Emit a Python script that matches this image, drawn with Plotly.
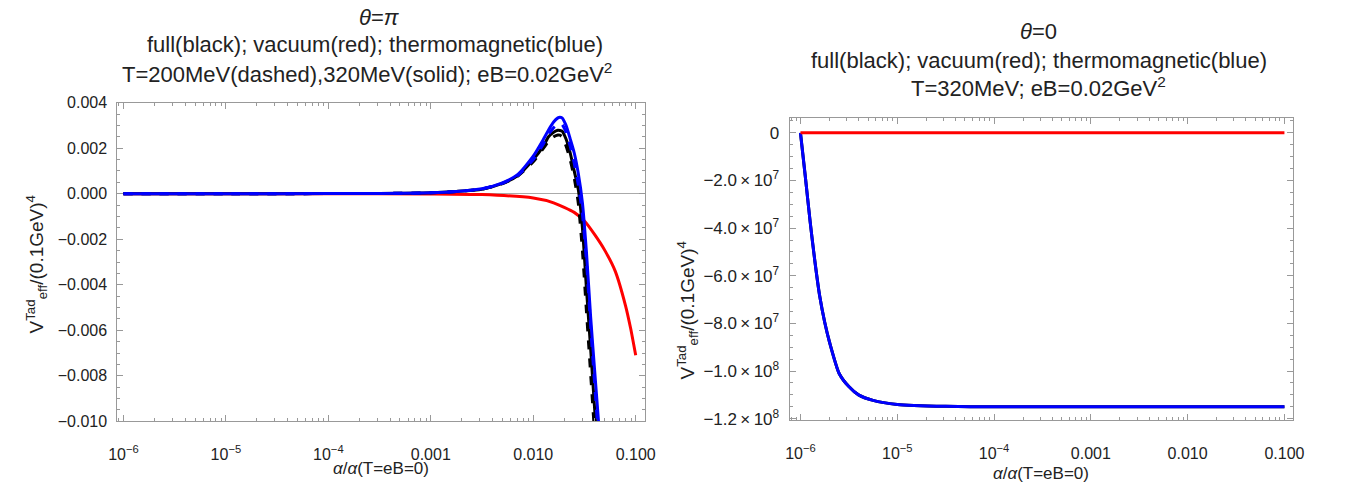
import plotly.graph_objects as go
from plotly.subplots import make_subplots

# ---- left panel: theta = pi ----
alpha_left = [1e-6, 1e-5, 1e-4, 3.16e-4, 1e-3, 1.78e-3, 3.16e-3, 5.01e-3, 7.08e-3,
              1.0e-2, 1.26e-2, 1.41e-2, 1.58e-2, 1.74e-2, 1.82e-2, 1.91e-2, 2.09e-2,
              2.29e-2, 2.51e-2, 2.75e-2, 3.02e-2, 3.31e-2, 3.63e-2, 3.98e-2, 4.37e-2]
thermo_320 = [0, 0, 0.000005, 0.00001, 0.00004, 0.0001, 0.00022, 0.00048, 0.00085,
              0.00165, 0.0024, 0.0028, 0.00315, 0.00333, 0.00336, 0.00333, 0.0030,
              0.00242, 0.0018, 0.0009, -0.0004, -0.0026, -0.0054, -0.0078, -0.0102]
thermo_200 = [0, 0, 0.000005, 0.00001, 0.00004, 0.0001, 0.00021, 0.00046, 0.0008,
              0.0015, 0.0022, 0.0026, 0.0029, 0.00305, 0.00308, 0.00305, 0.0027,
              0.0021, 0.00135, 0.0004, -0.0009, -0.003, -0.0058, -0.0084, -0.011]
full_320 = [0, 0, 0.000005, 0.00001, 0.00004, 0.0001, 0.0002, 0.00045, 0.0008,
            0.0015, 0.0021, 0.0025, 0.0027, 0.00279, 0.00278, 0.00275, 0.0024,
            0.0018, 0.001, 0.0002, -0.0015, -0.0042, -0.0068, -0.0095, -0.0122]
full_200 = [0, 0, 0.000005, 0.00001, 0.00004, 0.0001, 0.0002, 0.00044, 0.00078,
            0.0014, 0.002, 0.0023, 0.0025, 0.00258, 0.00257, 0.0025, 0.0021,
            0.0015, 0.0007, -0.0004, -0.0025, -0.0052, -0.0079, -0.0106, -0.0133]

alpha_vac = [1e-6, 1e-5, 1e-4, 1e-3, 3.16e-3, 1e-2, 1.58e-2, 2.51e-2, 3.16e-2, 3.98e-2,
             5.01e-2, 6.31e-2, 7.94e-2, 8.91e-2, 0.1]
vacuum = [0, 0, 0, -0.00001, -0.00004, -0.00019, -0.0004, -0.00082, -0.0012, -0.0018,
          -0.0025, -0.0034, -0.0049, -0.0059, -0.0071]

# ---- right panel: theta = 0, T = 320 MeV ----
alpha_right = [1e-6, 1.12e-6, 1.26e-6, 1.41e-6, 1.58e-6, 1.78e-6, 2.0e-6, 2.51e-6,
               3.16e-6, 3.98e-6, 5.62e-6, 1e-5, 3.16e-5, 1e-4, 1e-3, 1e-2, 0.1]
thermo_r = [0, -18e6, -37.5e6, -54e6, -68.5e6, -79.5e6, -88e6, -101e6,
            -106.5e6, -110e6, -112.3e6, -114e6, -114.8e6, -115e6, -115e6, -115e6, -115e6]
full_r = thermo_r
vacuum_r = [0] * len(alpha_right)

x_ticks = [1e-6, 1e-5, 1e-4, 1e-3, 1e-2, 0.1]
x_ticktext = ["10<sup>\u22126</sup>", "10<sup>\u22125</sup>", "10<sup>\u22124</sup>",
              "0.001", "0.010", "0.100"]
yl_ticks = [0.004, 0.002, 0.0, -0.002, -0.004, -0.006, -0.008, -0.010]
yl_text = ["0.004", "0.002", "0.000", "\u22120.002", "\u22120.004", "\u22120.006",
           "\u22120.008", "\u22120.010"]
yr_ticks = [0, -2e7, -4e7, -6e7, -8e7, -1e8, -1.2e8]
yr_text = ["0"] + ["\u2212%s\u2009\u00d7\u200910<sup>%d</sup>" % (m, p)
                   for m, p in [("2.0", 7), ("4.0", 7), ("6.0", 7), ("8.0", 7),
                                ("1.0", 8), ("1.2", 8)]]

minor_log = [m * 10.0 ** e for e in range(-7, 0) for m in range(2, 10)]

W, H = 1346, 497
FONT = "Liberation Sans, Arial, sans-serif"
BLUE, BLACK, RED = "#0000ff", "#000000", "#ff0000"

fig = make_subplots(rows=1, cols=2)

def add(x, y, color, dash, col):
    fig.add_trace(go.Scatter(x=x, y=y, mode="lines", line=dict(color=color, width=3, dash=dash,
                                                               shape="spline", smoothing=0.6),
                             showlegend=False, hoverinfo="skip"), row=1, col=col)

add(alpha_vac, vacuum, RED, "solid", 1)
add(alpha_left, full_200, BLACK, "dash", 1)
add(alpha_left, full_320, BLACK, "solid", 1)
add(alpha_left, thermo_200, BLUE, "dash", 1)
add(alpha_left, thermo_320, BLUE, "solid", 1)

add(alpha_right, full_r, BLACK, "solid", 2)
add(alpha_right, thermo_r, BLUE, "solid", 2)
add(alpha_right, vacuum_r, RED, "solid", 2)

axis_common = dict(showline=True, linecolor="#999999", linewidth=1, mirror="allticks",
                   ticks="inside", ticklen=6, tickcolor="#999999", showgrid=False,
                   tickfont=dict(family=FONT, size=16, color="#222"))

fig.update_xaxes(type="log", tickmode="array", tickvals=x_ticks, ticktext=x_ticktext,
                 minor=dict(tickmode="array", tickvals=minor_log, ticks="inside", ticklen=3,
                            tickcolor="#999999"),
                 zeroline=False, ticklabelstandoff=18, **axis_common)
fig.update_xaxes(domain=[110 / W, 646 / W], range=[-6.06, -0.91], row=1, col=1)
fig.update_xaxes(domain=[793 / W, 1304 / W], range=[-6.112, -0.915], row=1, col=2)

fig.update_yaxes(row=1, col=1, domain=[1 - 428 / H, 1 - 98 / H], range=[-0.0100, 0.0040],
                 tickmode="array", tickvals=yl_ticks, ticktext=yl_text,
                 minor=dict(dtick=0.0005, ticks="inside", ticklen=3, tickcolor="#999999"),
                 zeroline=True, zerolinecolor="#aaaaaa", zerolinewidth=1,
                 ticklabelstandoff=6, **axis_common)
fig.update_yaxes(row=1, col=2, domain=[1 - 427 / H, 1 - 114 / H], range=[-1.207e8, 0.062e8],
                 tickmode="array", tickvals=yr_ticks, ticktext=yr_text,
                 minor=dict(dtick=5e6, ticks="inside", ticklen=3, tickcolor="#999999"),
                 zeroline=False, ticklabelstandoff=6, **axis_common)
fig.update_yaxes(row=1, col=2, tickfont=dict(family=FONT, size=17, color="#222"))

ann = []
def text(x, y, s, size=22, angle=0):
    ann.append(dict(x=x / W, y=1 - y / H, xref="paper", yref="paper", text=s, showarrow=False,
                    textangle=angle, xanchor="center", yanchor="middle",
                    font=dict(family=FONT, size=size, color="#222")))

text(376, 10, "<i>\u03b8</i>=<i>\u03c0</i>")
text(372, 38, "full(black); vacuum(red); thermomagnetic(blue)")
text(364, 67, "T=200MeV(dashed),320MeV(solid); eB=0.02GeV<sup>2</sup>")
text(1046, 24, "<i>\u03b8</i>=0")
text(1046, 54, "full(black); vacuum(red); thermomagnetic(blue)")
text(1046, 82, "T=320MeV; eB=0.02GeV<sup>2</sup>")
ylab = "V<sup>Tad</sup><sub>eff</sub>/(0.1GeV)<sup>4</sup>"
text(28, 266, ylab, 19, -90)
text(689, 313, ylab, 19, -90)
text(378, 477, "<i>\u03b1</i>/<i>\u03b1</i>(T=eB=0)", 17)
text(1048, 482, "<i>\u03b1</i>/<i>\u03b1</i>(T=eB=0)", 17)

fig.update_layout(width=W, height=H, margin=dict(l=0, r=0, t=0, b=0),
                  plot_bgcolor="white", paper_bgcolor="white", annotations=ann)

fig.write_html("out.html", config={"displayModeBar": False},
               post_script="document.body.style.margin='0';")
